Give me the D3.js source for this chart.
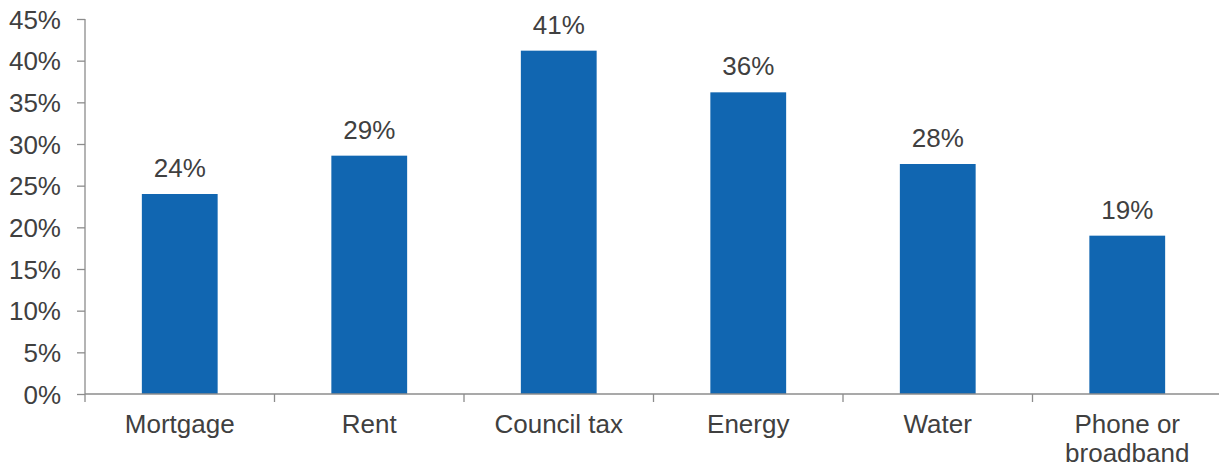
<!DOCTYPE html>
<html>
<head>
<meta charset="utf-8">
<script src="https://cdn.jsdelivr.net/npm/d3@7"></script>
<style>
  html, body { margin: 0; padding: 0; background: #fff; }
  svg { display: block; font-family: "Liberation Sans", Arial, sans-serif; }
</style>
</head>
<body>
<svg id="chart" width="1219" height="468"></svg>
<script>
// Share of respondents behind on each household bill
const categories = ["Mortgage", "Rent", "Council tax", "Energy", "Water", "Phone or broadband"];
const values = [0.24, 0.286, 0.412, 0.362, 0.276, 0.19];
const yTicks = [0, 0.05, 0.10, 0.15, 0.20, 0.25, 0.30, 0.35, 0.40, 0.45];

const svg = d3.select("#chart");
const margin = { left: 85, right: -3, top: 19, bottom: 74 };
const W = 1219, H = 468;
const fontSize = 26;

const x = d3.scaleBand()
  .domain(categories)
  .range([margin.left, W - margin.right])
  .paddingInner(0.6)
  .paddingOuter(0.3);

const y = d3.scaleLinear()
  .domain([0, 0.45])
  .range([H - margin.bottom, margin.top]);

const axisColor = "#8c8c8c";
const textColor = "#404040";
const barColor = "#1166b1";

// Bars
svg.append("g")
  .selectAll("rect")
  .data(categories)
  .join("rect")
  .attr("x", d => x(d))
  .attr("width", x.bandwidth())
  .attr("y", (d, i) => y(values[i]))
  .attr("height", (d, i) => y(0) - y(values[i]))
  .attr("fill", barColor);

// Value labels
svg.append("g")
  .selectAll("text")
  .data(categories)
  .join("text")
  .attr("x", d => x(d) + x.bandwidth() / 2)
  .attr("y", (d, i) => y(values[i]) - 17)
  .attr("text-anchor", "middle")
  .attr("font-size", fontSize)
  .attr("fill", textColor)
  .text((d, i) => d3.format(".0%")(values[i]));

// Y axis
const yAxis = svg.append("g")
  .attr("transform", `translate(${margin.left},0)`)
  .call(d3.axisLeft(y).tickValues(yTicks).tickFormat(d3.format(".0%")).tickSize(8).tickPadding(16));
yAxis.select(".domain").attr("stroke", axisColor).attr("stroke-width", 1.3).attr("d", `M0,${y(0.45)}V${y(0)}`);
yAxis.selectAll(".tick line").attr("stroke", axisColor).attr("stroke-width", 1.3);
yAxis.selectAll(".tick text").attr("fill", textColor).attr("font-size", fontSize)
  .attr("font-family", "Liberation Sans, Arial, sans-serif").attr("dy", "0.35em");

// X axis: baseline with separator ticks between categories
const xg = svg.append("g").attr("transform", `translate(0,${y(0)})`);
xg.append("line")
  .attr("x1", margin.left).attr("x2", W)
  .attr("stroke", axisColor).attr("stroke-width", 1.3);
const step = x.step();
const bounds = d3.range(categories.length + 1).map(i => x(categories[0]) - x.paddingOuter() * step + i * step);
xg.selectAll("line.sep")
  .data(bounds)
  .join("line")
  .attr("class", "sep")
  .attr("x1", d => d).attr("x2", d => d)
  .attr("y1", 0).attr("y2", 8)
  .attr("stroke", axisColor).attr("stroke-width", 1.3);

// Category labels (wrapped onto two lines where needed)
const labelLines = { "Phone or broadband": ["Phone or", "broadband"] };
xg.selectAll("text.cat")
  .data(categories)
  .join("text")
  .attr("class", "cat")
  .attr("x", d => x(d) + x.bandwidth() / 2)
  .attr("y", 39)
  .attr("text-anchor", "middle")
  .attr("font-size", fontSize)
  .attr("fill", textColor)
  .each(function (d) {
    const lines = labelLines[d] || [d];
    const t = d3.select(this);
    lines.forEach((ln, i) => {
      t.append("tspan")
        .attr("x", x(d) + x.bandwidth() / 2)
        .attr("dy", i === 0 ? 0 : 29)
        .text(ln);
    });
  });
</script>
</body>
</html>
